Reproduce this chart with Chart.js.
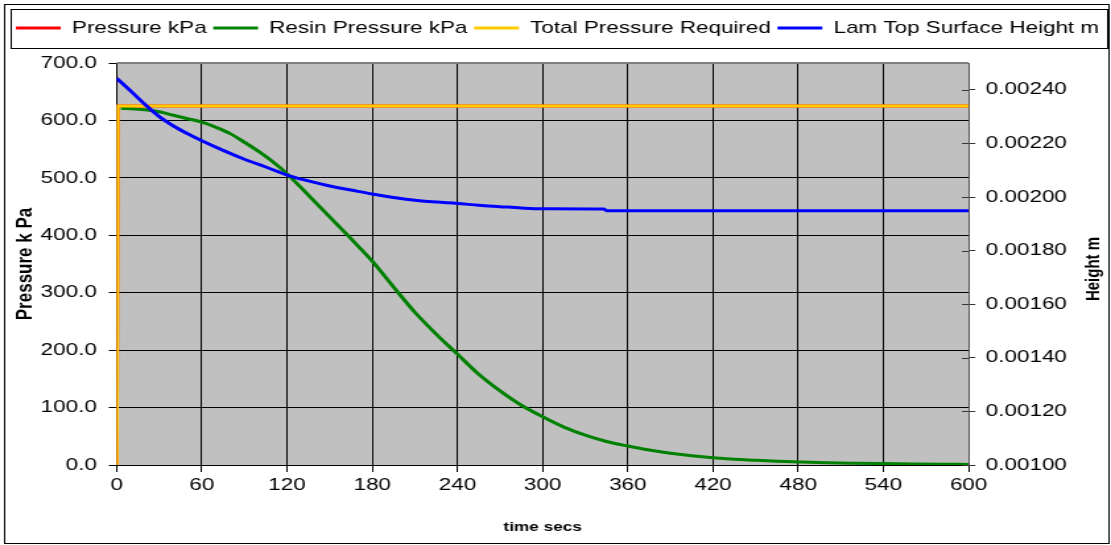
<!DOCTYPE html>
<html lang="en">
<head>
    <meta charset="UTF-8">
    <title>Resin pressure and laminate height</title>
    <script src="https://cdn.jsdelivr.net/npm/chart.js@4/dist/chart.umd.min.js"></script>
    <style>
        body {
            margin: 0;
            background: #fff;
        }
    </style>
</head>
<body>

<!-- laid out at 842 wide and stretched to 1111, like the exported sheet chart -->
<canvas id="chart" width="842" height="545" style="display:block;width:1111px;height:545px"></canvas>

<script>

// applied / required pressure (kPa) against time (s)
var pressureTimes = [0, 0.7, 600];
var pressureKPa = [0, 625, 625];
var requiredTimes = [0, 0.7, 600];
var requiredKPa = [0, 625, 625];

// resin pressure (kPa)
var resinTimes = [3, 10, 20, 30, 40, 50, 60, 70, 80, 90, 100, 110, 120, 135, 150, 165, 180, 195, 210, 225,
    240, 255, 270, 285, 300, 315, 330, 345, 360, 375, 390, 405, 420, 435, 450, 465, 480, 500, 520, 540, 560, 580, 600];
var resinKPa = [621, 620.5, 618.5, 615, 609, 603, 597, 588, 577, 562, 546, 528, 507, 470, 432, 394, 355, 310, 266, 228,
    193, 158, 129, 104, 84, 66, 52, 41, 33, 26, 20.5, 16, 12.5, 10, 8.3, 6.6, 5.4, 4, 3.1, 2.4, 1.8, 1.3, 1.0];

// laminate top surface height (m)
var heightTimes = [0, 10, 20, 30, 40, 50, 60, 75, 90, 105, 120, 135, 150, 165, 180, 195, 210, 225, 240, 255, 270, 285, 300, 343, 345, 600];
var heightM = [0.002443, 0.002395, 0.002345, 0.002300, 0.002265, 0.002236, 0.002210, 0.002174, 0.002141, 0.002112,
    0.002082, 0.002060, 0.002041, 0.002026, 0.002011, 0.001998, 0.001988, 0.001981, 0.001976, 0.001969,
    0.001964, 0.001959, 0.001956, 0.001955, 0.001949, 0.001949];

var timeTicks = [0, 60, 120, 180, 240, 300, 360, 420, 480, 540, 600];
var pressureTicks = [0, 100, 200, 300, 400, 500, 600, 700];
var heightTicks = [0.0010, 0.0012, 0.0014, 0.0016, 0.0018, 0.0020, 0.0022, 0.0024];

var FONT = '"Liberation Sans", Arial, sans-serif';

function points(xs, ys) {
    return xs.map(function (x, i) { return {x: x, y: ys[i]}; });
}

function keepTicks(list) {
    return function (scale) {
        scale.ticks = list.map(function (v) { return {value: v}; });
    };
}

// grey plot background, frame, legend box, right axis title and inner ticks
var decorations = {
    id: 'decorations',
    beforeDraw: function (chart) {
        var ctx = chart.ctx, a = chart.chartArea;
        ctx.save();
        ctx.fillStyle = '#C0C0C0';
        ctx.fillRect(a.left, a.top, a.right - a.left, a.bottom - a.top);
        ctx.restore();
    },
    afterDraw: function (chart) {
        var ctx = chart.ctx, a = chart.chartArea;
        ctx.save();

        // top edge of the plot
        ctx.strokeStyle = '#808080';
        ctx.lineWidth = 2;
        ctx.beginPath();
        ctx.moveTo(a.left, a.top);
        ctx.lineTo(a.right, a.top);
        ctx.stroke();

        // secondary axis ticks reach into the plot too
        var y2 = chart.scales.y2;
        ctx.strokeStyle = '#333';
        ctx.lineWidth = 1;
        y2.ticks.forEach(function (t) {
            var py = Math.round(y2.getPixelForValue(t.value)) + 0.5;
            ctx.beginPath();
            ctx.moveTo(a.right - 5, py);
            ctx.lineTo(a.right, py);
            ctx.stroke();
        });

        // outer frame
        ctx.strokeStyle = '#000';
        ctx.lineWidth = 1;
        ctx.strokeRect(3.5, 4.5, chart.width - 5, chart.height - 6);

        // legend box
        var boxes = chart.legend.legendHitBoxes;
        if (boxes && boxes.length) {
            var first = boxes[0], last = boxes[boxes.length - 1];
            var cy = first.top + first.height / 2;
            ctx.strokeStyle = '#000';
            ctx.strokeRect(Math.round(first.left - 4) + 0.5, Math.round(cy - 19) + 0.5,
                Math.round(last.left + last.width - first.left + 10), 39);
        }

        // right axis title, reading upwards like the left one
        ctx.fillStyle = '#000';
        ctx.font = 'bold 15px ' + FONT;
        ctx.textAlign = 'center';
        ctx.textBaseline = 'middle';
        ctx.translate(829, (a.top + a.bottom) / 2 + 5);
        ctx.rotate(-Math.PI / 2);
        ctx.fillText('Height m', 0, 0);
        ctx.restore();
    }
};

// keeps a little room between the legend and the plot
var legendGap = {
    id: 'legendGap',
    beforeInit: function (chart) {
        Chart.layouts.addBox(chart, {
            position: 'top',
            weight: 500,
            fullSize: true,
            options: {},
            top: 0, left: 0, right: 0, bottom: 0, width: 0, height: 0,
            isHorizontal: function () { return true; },
            update: function (maxWidth) {
                this.width = maxWidth;
                this.height = 16.5;
            },
            getPadding: function () { return {top: 0, left: 0, right: 0, bottom: 0}; },
            draw: function () {}
        });
    }
};

var ctx = document.getElementById('chart').getContext('2d');

var chart = new Chart(ctx, {
    type: 'line',
    data: {
        datasets: [{
            label: 'Pressure kPa',
            data: points(pressureTimes, pressureKPa),
            borderColor: '#FF0000',
            pointBorderColor: '#FF0000',
            order: 4
        }, {
            label: 'Resin Pressure kPa',
            data: points(resinTimes, resinKPa),
            borderColor: '#008000',
            pointBorderColor: '#008000',
            cubicInterpolationMode: 'monotone',
            order: 3
        }, {
            label: 'Total Pressure Required',
            data: points(requiredTimes, requiredKPa),
            borderColor: '#FFCC00',
            pointBorderColor: '#FFCC00',
            order: 2
        }, {
            label: 'Lam Top Surface Height m',
            data: points(heightTimes, heightM),
            borderColor: '#0000FF',
            pointBorderColor: '#0000FF',
            cubicInterpolationMode: 'monotone',
            yAxisID: 'y2',
            order: 1
        }]
    },
    options: {
        responsive: false,
        devicePixelRatio: 1,
        animation: false,
        events: [],
        layout: {
            padding: {left: 5, right: 2, top: 14.5, bottom: 4}
        },
        datasets: {
            line: {
                borderWidth: 3,
                pointRadius: 0,
                pointBorderWidth: 3,
                tension: 0,
                fill: false
            }
        },
        plugins: {
            tooltip: {enabled: false},
            legend: {
                position: 'top',
                labels: {
                    usePointStyle: true,
                    pointStyle: 'line',
                    pointStyleWidth: 34,
                    padding: 5,
                    color: '#000',
                    font: {family: FONT, size: 17},
                    sort: function (a, b) { return a.datasetIndex - b.datasetIndex; }
                }
            }
        },
        scales: {
            x: {
                type: 'linear',
                min: 0,
                max: 600,
                afterBuildTicks: keepTicks(timeTicks),
                afterFit: function (scale) { scale.height = 76; },
                border: {color: '#000', width: 1},
                grid: {color: '#000', lineWidth: 1, tickLength: 7, tickColor: '#000'},
                ticks: {
                    color: '#000',
                    padding: 3,
                    maxRotation: 0,
                    font: {family: FONT, size: 17}
                },
                title: {
                    display: true,
                    text: 'time secs',
                    color: '#000',
                    padding: {top: 4, bottom: 6},
                    font: {family: FONT, size: 13, weight: 'bold'}
                }
            },
            y: {
                position: 'left',
                min: 0,
                max: 700,
                afterBuildTicks: keepTicks(pressureTicks),
                afterFit: function (scale) { scale.width = 83.4; },
                border: {color: '#000', width: 1},
                grid: {color: '#000', lineWidth: 1, tickLength: 6, tickColor: '#000'},
                ticks: {
                    color: '#000',
                    padding: 9,
                    font: {family: FONT, size: 17},
                    callback: function (v) { return v.toFixed(1); }
                },
                title: {
                    display: true,
                    text: 'Pressure k Pa',
                    color: '#000',
                    padding: {top: 4, bottom: 0},
                    font: {family: FONT, size: 17, weight: 'bold'}
                }
            },
            y2: {
                position: 'right',
                min: 0.001,
                max: 0.0025,
                afterBuildTicks: keepTicks(heightTicks),
                afterFit: function (scale) { scale.width = 105.9; },
                border: {color: '#555', width: 1},
                grid: {drawOnChartArea: false, color: '#333', tickLength: 5},
                ticks: {
                    color: '#000',
                    padding: 8,
                    font: {family: FONT, size: 17},
                    callback: function (v) { return v.toFixed(5); }
                }
            }
        }
    },
    plugins: [decorations, legendGap]
});

</script>

</body>
</html>
